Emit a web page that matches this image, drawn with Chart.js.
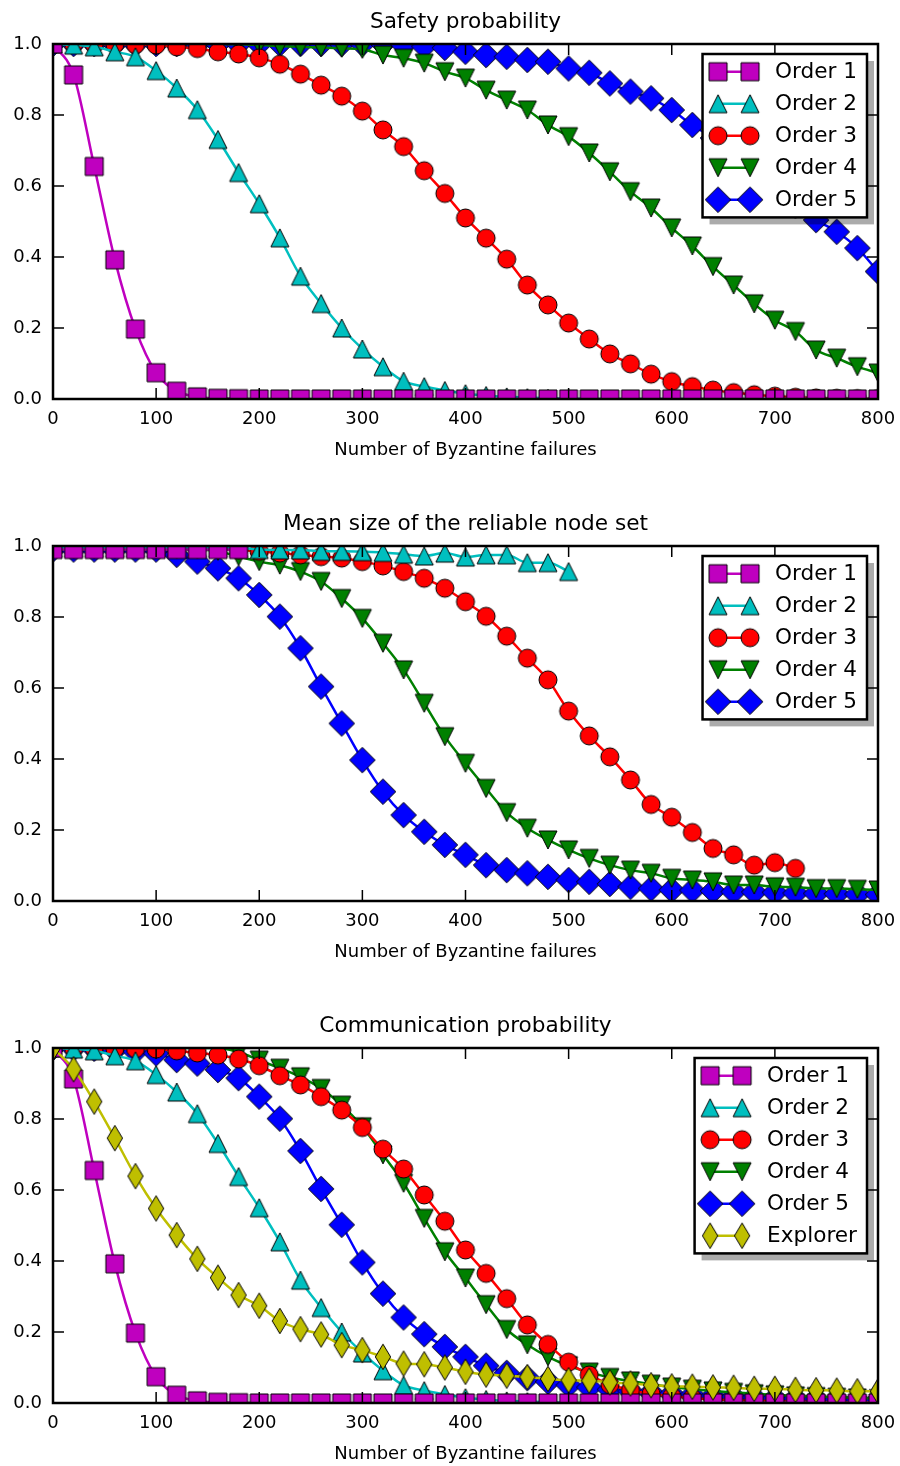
<!DOCTYPE html>
<html>
<head>
<meta charset="utf-8">
<title>Byzantine failures</title>
<script src="https://cdn.jsdelivr.net/npm/chart.js@4.4.0/dist/chart.umd.min.js"></script>
<style>
  body { margin: 0; background: #fff; }
  .panel { width: 900px; height: 462px; margin-bottom: 40px; }
  .panel:last-child { margin-bottom: 0; }
  canvas { display: block; }
</style>
</head>
<body>
<div class="panel"><canvas id="safety" width="900" height="462"></canvas></div>
<div class="panel"><canvas id="nodeset" width="900" height="462"></canvas></div>
<div class="panel"><canvas id="comm" width="900" height="462"></canvas></div>
<script>
// --- data (x = number of Byzantine failures) ---
const failures = [
  0, 20, 40, 60, 80, 100, 120, 140, 160, 180,
  200, 220, 240, 260, 280, 300, 320, 340, 360, 380,
  400, 420, 440, 460, 480, 500, 520, 540, 560, 580,
  600, 620, 640, 660, 680, 700, 720, 740, 760, 780,
  800
];
const seriesLabels = ['Order 1', 'Order 2', 'Order 3', 'Order 4', 'Order 5', 'Explorer'];
const yTicks = [0, 0.2, 0.4, 0.6, 0.8, 1.0];
const xTicks = [0, 100, 200, 300, 400, 500, 600, 700, 800];

// Safety probability
const safetyOrder1 = [
  1.0, 0.913, 0.655, 0.392, 0.197, 0.074, 0.022, 0.006, 0.002, 0.001,
  0, 0, 0, 0, 0, 0, 0, 0, 0, 0,
  0, 0, 0, 0, 0, 0, 0, 0, 0, 0,
  0, 0, 0, 0, 0, 0, 0, 0, 0, 0,
  0
];
const safetyOrder2 = [
  1.0, 0.997, 0.992, 0.978, 0.964, 0.925, 0.876, 0.815, 0.731, 0.638,
  0.55, 0.454, 0.346, 0.269, 0.2, 0.141, 0.091, 0.05, 0.035, 0.024,
  0.015, 0.01, 0.006, 0.004, 0.002, 0.001, 0, 0, 0, 0,
  0, 0, 0, 0, 0, 0, 0, 0, 0, 0,
  0
];
const safetyOrder3 = [
  1.0, 1.0, 0.999, 0.999, 0.998, 0.997, 0.992, 0.987, 0.978, 0.972,
  0.961, 0.943, 0.915, 0.884, 0.853, 0.811, 0.758, 0.711, 0.643, 0.579,
  0.51, 0.453, 0.394, 0.321, 0.265, 0.214, 0.169, 0.127, 0.099, 0.07,
  0.049, 0.035, 0.025, 0.018, 0.012, 0.008, 0.005, 0.003, 0.002, 0.001,
  0.001
];
const safetyOrder4 = [
  1.0, 1.0, 1.0, 1.0, 1.0, 1.0, 1.0, 1.0, 1.0, 0.999,
  0.997, 0.994, 0.992, 0.99, 0.988, 0.985, 0.969, 0.96, 0.946, 0.922,
  0.904, 0.87, 0.842, 0.814, 0.772, 0.739, 0.693, 0.64, 0.584, 0.538,
  0.482, 0.431, 0.373, 0.321, 0.268, 0.222, 0.19, 0.138, 0.115, 0.091,
  0.073
];
const safetyOrder5 = [
  1.0, 1.0, 1.0, 1.0, 1.0, 1.0, 1.0, 1.0, 1.0, 1.0,
  1.0, 1.0, 1.0, 1.0, 1.0, 1.0, 1.0, 0.997, 0.993, 0.989,
  0.978, 0.969, 0.964, 0.955, 0.95, 0.931, 0.919, 0.889, 0.866, 0.847,
  0.814, 0.772, 0.735, 0.69, 0.64, 0.59, 0.545, 0.504, 0.471, 0.425,
  0.359
];

// Mean size of the reliable node set (some series stop early)
const nodeSetOrder1 = [0.99, 0.99, 0.99, 0.99, 0.99, 0.99, 0.99, 0.99, 0.99, 0.99];
const nodeSetOrder2 = [
  0.995, 0.995, 0.995, 0.995, 0.995, 0.995, 0.995, 0.995, 0.995, 0.995,
  0.99, 0.989, 0.989, 0.985, 0.985, 0.984, 0.982, 0.977, 0.972, 0.98,
  0.969, 0.975, 0.975, 0.953, 0.953, 0.928
];
const nodeSetOrder3 = [
  0.995, 0.995, 0.995, 0.995, 0.995, 0.995, 0.995, 0.994, 0.992, 0.989,
  0.985, 0.98, 0.975, 0.97, 0.966, 0.956, 0.944, 0.928, 0.909, 0.881,
  0.843, 0.802, 0.746, 0.684, 0.623, 0.535, 0.465, 0.406, 0.341, 0.272,
  0.236, 0.193, 0.148, 0.13, 0.101, 0.108, 0.092
];
const nodeSetOrder4 = [
  0.99, 0.99, 0.99, 0.99, 0.99, 0.99, 0.99, 0.99, 0.985, 0.97,
  0.956, 0.946, 0.928, 0.9, 0.852, 0.796, 0.726, 0.651, 0.557, 0.463,
  0.388, 0.317, 0.249, 0.205, 0.172, 0.144, 0.12, 0.101, 0.087, 0.078,
  0.064, 0.059, 0.054, 0.045, 0.045, 0.04, 0.039, 0.035, 0.035, 0.033,
  0.031
];
const nodeSetOrder5 = [
  0.99, 0.99, 0.99, 0.99, 0.99, 0.99, 0.975, 0.956, 0.937, 0.909,
  0.862, 0.801, 0.712, 0.604, 0.5, 0.397, 0.308, 0.242, 0.195, 0.158,
  0.13, 0.101, 0.087, 0.078, 0.068, 0.059, 0.054, 0.048, 0.04, 0.035,
  0.031, 0.03, 0.028, 0.026, 0.025, 0.024, 0.022, 0.021, 0.02, 0.019,
  0.018
];

// Communication probability
const commOrder1 = [
  1.0, 0.913, 0.655, 0.392, 0.197, 0.074, 0.022, 0.006, 0.002, 0.001,
  0, 0, 0, 0, 0, 0, 0, 0, 0, 0,
  0, 0, 0, 0, 0, 0, 0, 0, 0, 0,
  0, 0, 0, 0, 0, 0, 0, 0, 0, 0,
  0
];
const commOrder2 = [
  1.0, 0.997, 0.992, 0.978, 0.964, 0.925, 0.876, 0.815, 0.731, 0.638,
  0.55, 0.454, 0.346, 0.269, 0.2, 0.141, 0.091, 0.05, 0.035, 0.024,
  0.015, 0.01, 0.006, 0.004, 0.002, 0.001, 0, 0, 0, 0,
  0, 0, 0, 0, 0, 0, 0, 0, 0, 0,
  0
];
const commOrder3 = [
  1.0, 0.999, 0.999, 0.998, 0.998, 0.997, 0.992, 0.986, 0.98, 0.969,
  0.95, 0.922, 0.896, 0.863, 0.825, 0.776, 0.715, 0.659, 0.586, 0.512,
  0.431, 0.365, 0.294, 0.22, 0.165, 0.115, 0.079, 0.052, 0.036, 0.026,
  0.019, 0.014, 0.01, 0.008, 0.006, 0.005, 0.004, 0.003, 0.002, 0.002,
  0.001
];
const commOrder4 = [
  1.0, 1.0, 1.0, 1.0, 1.0, 1.0, 1.0, 1.0, 1.0, 0.988,
  0.966, 0.943, 0.919, 0.886, 0.839, 0.778, 0.699, 0.619, 0.52, 0.426,
  0.352, 0.277, 0.207, 0.164, 0.13, 0.105, 0.087, 0.072, 0.062, 0.053,
  0.045, 0.039, 0.034, 0.03, 0.026, 0.023, 0.02, 0.018, 0.016, 0.014,
  0.012
];
const commOrder5 = [
  1.0, 0.999, 0.998, 0.995, 0.99, 0.985, 0.966, 0.956, 0.938, 0.915,
  0.863, 0.801, 0.71, 0.603, 0.502, 0.396, 0.308, 0.241, 0.194, 0.158,
  0.13, 0.105, 0.085, 0.07, 0.06, 0.05, 0.044, 0.038, 0.033, 0.029,
  0.025, 0.022, 0.019, 0.017, 0.015, 0.013, 0.012, 0.011, 0.01, 0.009,
  0.008
];
const commExplorer = [
  1.0, 0.94, 0.849, 0.746, 0.639, 0.548, 0.473, 0.406, 0.353, 0.304,
  0.274, 0.231, 0.208, 0.193, 0.163, 0.149, 0.13, 0.111, 0.109, 0.1,
  0.088, 0.08, 0.077, 0.073, 0.068, 0.064, 0.063, 0.058, 0.055, 0.05,
  0.047, 0.046, 0.044, 0.043, 0.04, 0.04, 0.037, 0.036, 0.035, 0.033,
  0.033
];

// --- styles ---
Chart.defaults.font.family = "'DejaVu Sans', sans-serif";
Chart.defaults.color = '#000';

const MS = 18;          // marker size in px
const TICK_LEN = 11;
const BIG_FONT = '21.6px "DejaVu Sans"';

// matplotlib-like markers drawn once into small canvases
function makeMarker(shape, fill) {
  const c = document.createElement('canvas');
  c.width = 30; c.height = 30;
  const g = c.getContext('2d');
  const h = MS / 2;
  const d = MS * Math.SQRT1_2;
  g.translate(15, 15);
  g.beginPath();
  if (shape === 'square') {
    g.rect(-h, -h, MS, MS);
  } else if (shape === 'circle') {
    g.arc(0, 0, h, 0, Math.PI * 2);
  } else if (shape === 'up') {
    g.moveTo(0, -h); g.lineTo(h, h); g.lineTo(-h, h); g.closePath();
  } else if (shape === 'down') {
    g.moveTo(0, h); g.lineTo(h, -h); g.lineTo(-h, -h); g.closePath();
  } else if (shape === 'diamond') {
    g.moveTo(0, -d); g.lineTo(d, 0); g.lineTo(0, d); g.lineTo(-d, 0); g.closePath();
  } else if (shape === 'thin') {
    const w = d * 0.6;
    g.moveTo(0, -d); g.lineTo(w, 0); g.lineTo(0, d); g.lineTo(-w, 0); g.closePath();
  }
  g.fillStyle = fill;
  g.fill();
  g.lineWidth = 1;
  g.strokeStyle = '#000';
  g.stroke();
  return c;
}

const STYLES = [
  { color: '#bf00bf', marker: makeMarker('square', '#bf00bf') },
  { color: '#00bfbf', marker: makeMarker('up', '#00bfbf') },
  { color: '#ff0000', marker: makeMarker('circle', '#ff0000') },
  { color: '#008000', marker: makeMarker('down', '#008000') },
  { color: '#0000ff', marker: makeMarker('diamond', '#0000ff') },
  { color: '#bfbf00', marker: makeMarker('thin', '#bfbf00') }
];

function dataset(i, values) {
  const st = STYLES[i];
  return {
    label: seriesLabels[i],
    data: values.map((v, k) => ({ x: failures[k], y: v })),
    borderColor: st.color,
    borderWidth: 2.5,
    pointStyle: st.marker,
    pointRadius: 9,
    cubicInterpolationMode: 'monotone',
    clip: 0,
    order: i === 5 ? -1 : 0,
    _marker: st.marker
  };
}

// frame + inward ticks on all four sides
const frameTicks = {
  id: 'frameTicks',
  afterDatasetsDraw(chart) {
    const { ctx, chartArea: a, scales: { x, y } } = chart;
    ctx.save();
    ctx.strokeStyle = '#000';
    ctx.lineWidth = 1.5;
    ctx.beginPath();
    xTicks.forEach(v => {
      const px = x.getPixelForValue(v);
      ctx.moveTo(px, a.bottom); ctx.lineTo(px, a.bottom - TICK_LEN);
      ctx.moveTo(px, a.top); ctx.lineTo(px, a.top + TICK_LEN);
    });
    yTicks.forEach(v => {
      const py = y.getPixelForValue(v);
      ctx.moveTo(a.left, py); ctx.lineTo(a.left + TICK_LEN, py);
      ctx.moveTo(a.right, py); ctx.lineTo(a.right - TICK_LEN, py);
    });
    ctx.stroke();
    ctx.lineWidth = 2.5;
    ctx.strokeRect(a.left, a.top, a.right - a.left, a.bottom - a.top);
    ctx.restore();
  }
};

// title centred over the axes box
function panelTitle(text) {
  return {
    id: 'panelTitle',
    afterDraw(chart) {
      const { ctx, chartArea: a } = chart;
      ctx.save();
      ctx.font = BIG_FONT;
      ctx.fillStyle = '#000';
      ctx.textAlign = 'center';
      ctx.textBaseline = 'alphabetic';
      ctx.fillText(text, (a.left + a.right) / 2, 28);
      ctx.restore();
    }
  };
}

// legend box with shadow, two markers per row joined by the line
const boxLegend = {
  id: 'boxLegend',
  afterDraw(chart) {
    const { ctx, chartArea: a } = chart;
    const sets = chart.data.datasets;
    ctx.save();
    ctx.font = BIG_FONT;
    const textW = Math.max(...sets.map(d => ctx.measureText(d.label).width));
    const rowH = 32, edge = 17.7;
    const m1 = 15.5, m2 = m1 + 32, tx = m2 + 25;
    const w = tx + textW + 10;
    const h = rowH * (sets.length - 1) + edge * 2;
    const bx = a.right - 11 - w, by = a.top + 10;

    ctx.fillStyle = 'rgba(0,0,0,0.33)';
    ctx.fillRect(bx + 7, by + 7, w, h);
    ctx.fillStyle = '#fff';
    ctx.fillRect(bx, by, w, h);
    ctx.lineWidth = 2.5;
    ctx.strokeStyle = '#000';
    ctx.strokeRect(bx, by, w, h);

    sets.forEach((d, i) => {
      const cy = by + edge + i * rowH;
      ctx.strokeStyle = d.borderColor;
      ctx.lineWidth = 2.5;
      ctx.beginPath();
      ctx.moveTo(bx + m1, cy); ctx.lineTo(bx + m2, cy);
      ctx.stroke();
      const mk = d._marker;
      ctx.drawImage(mk, bx + m1 - mk.width / 2, cy - mk.height / 2);
      ctx.drawImage(mk, bx + m2 - mk.width / 2, cy - mk.height / 2);
      ctx.fillStyle = '#000';
      ctx.textAlign = 'left';
      ctx.textBaseline = 'middle';
      ctx.fillText(d.label, bx + tx, cy + 1);
    });
    ctx.restore();
  }
};

function buildOptions() {
  return {
    responsive: false,
    animation: false,
    layout: { padding: { top: 44, right: 22, left: 0, bottom: 0 } },
    plugins: { legend: { display: false }, tooltip: { enabled: false } },
    scales: {
      x: {
        type: 'linear', min: 0, max: 800,
        ticks: { stepSize: 100, padding: 10, font: { size: 18 } },
        grid: { display: false, drawTicks: false },
        border: { display: false },
        title: {
          display: true, text: 'Number of Byzantine failures',
          font: { size: 18 }, padding: { top: 0, bottom: 1 }
        },
        // fixed box, and no extra room for the end tick labels
        afterFit: s => { s.height = 63; s.paddingLeft = 0; s.paddingRight = 0; }
      },
      y: {
        type: 'linear', min: 0, max: 1,
        ticks: { stepSize: 0.2, padding: 11, font: { size: 18 }, callback: v => v.toFixed(1) },
        grid: { display: false, drawTicks: false },
        border: { display: false },
        afterFit: s => { s.width = 53; s.paddingTop = 0; s.paddingBottom = 0; }
      }
    }
  };
}

function drawPanel(id, title, seriesList) {
  new Chart(document.getElementById(id), {
    type: 'line',
    data: { datasets: seriesList.map((vals, i) => dataset(i, vals)) },
    options: buildOptions(),
    plugins: [frameTicks, panelTitle(title), boxLegend]
  });
}

drawPanel('safety', 'Safety probability',
  [safetyOrder1, safetyOrder2, safetyOrder3, safetyOrder4, safetyOrder5]);
drawPanel('nodeset', 'Mean size of the reliable node set',
  [nodeSetOrder1, nodeSetOrder2, nodeSetOrder3, nodeSetOrder4, nodeSetOrder5]);
drawPanel('comm', 'Communication probability',
  [commOrder1, commOrder2, commOrder3, commOrder4, commOrder5, commExplorer]);
</script>
</body>
</html>
